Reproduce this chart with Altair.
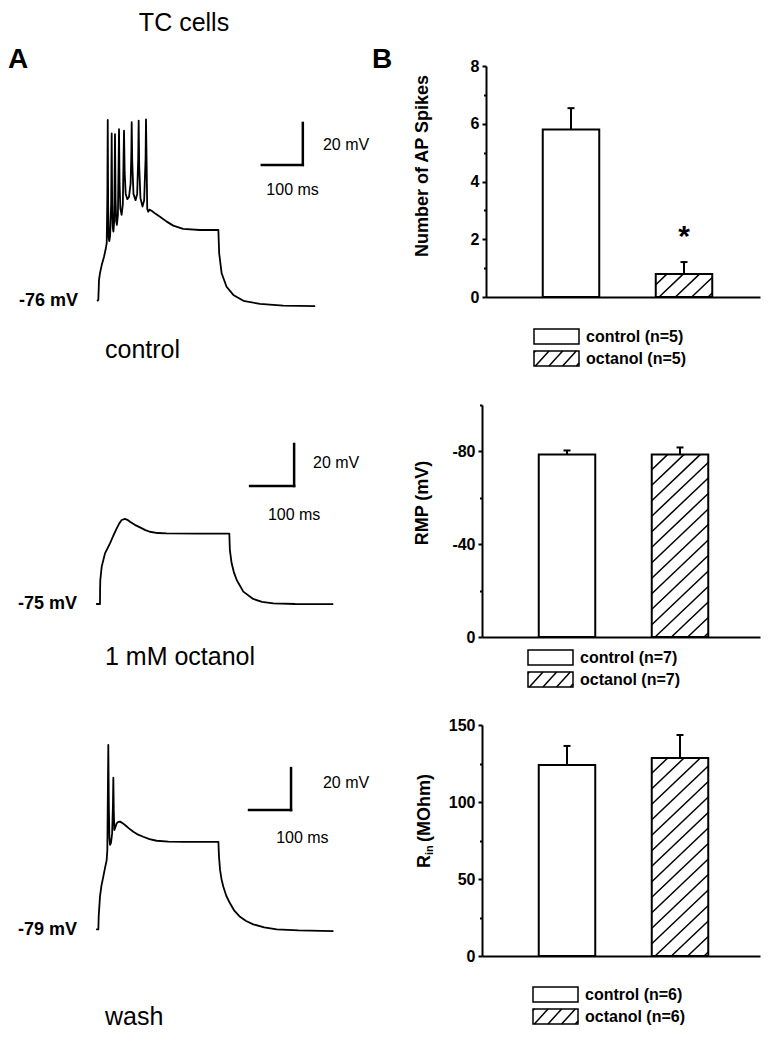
import altair as alt
import pandas as pd

# ---------------- values ----------------
groups = ["control", "octanol"]

spike_mean = [5.8, 0.8]
spike_sem = [0.74, 0.41]
spike_n = [5, 5]
spike_mark = ["", "*"]

rmp_mean = [-78.7, -78.7]
rmp_sem = [1.7, 3.0]
rmp_n = [7, 7]

rin_mean = [124.0, 128.6]
rin_sem = [12.4, 14.9]
rin_n = [6, 6]

trace_names = ["control", "1 mM octanol", "wash"]
trace_rest = [-76, -75, -79]
scalebar_mv = 20
scalebar_ms = 100

# (time ms, membrane potential mV)
ctrl_trace = [
    (0, -76), (3.2, -75.5), (4.9, -66), (7.3, -62.7), (11.5, -58.9), (17, -55), (21, -51.5),
    (23.7, -48.4), (25.3, -25), (26.2, 10.2), (27.2, -30), (28.5, -46), (30, -47.5), (32, -45),
    (34.5, -30), (35.8, 3.8), (37, -30), (38.5, -41), (40, -43), (42, -38), (43.9, 3.4),
    (45.3, -28), (47, -38), (48.5, -39.8), (51, -35), (52.7, -10), (53.7, 5.8), (55, -20),
    (57, -32), (60, -35), (63, -30), (65, -5), (65.9, 5.1), (67.5, -15), (70, -25), (74, -27.5),
    (78, -26.5), (82, -20), (83.8, -5), (84.6, 9.2), (86, -10), (89, -25), (94, -28), (98, -25),
    (100.5, -8), (101.6, 9.9), (103, -12), (106, -27), (111, -31), (115, -28), (118.5, -8),
    (119.5, 10.5), (121, -10), (122.5, -32), (125, -33.5), (128, -32.5), (133, -33), (143, -34.5),
    (153.7, -35.9), (170, -38.2), (186, -40.1), (210, -41.7), (251, -42.2), (296, -42.2),
    (298, -53.3), (304, -62.8), (316, -69.2), (332.5, -73.1), (357, -75.9), (397.6, -77.4),
    (454, -78.2), (532, -78.4),
]
octanol_trace = [
    (-2, -75), (6.8, -75), (7.0, -68), (7.5, -63.6), (10.7, -57.2), (18.2, -50.9), (29.5, -46.1),
    (37, -42.5), (44.8, -39), (51, -36.5), (56, -35), (63.6, -34.5), (69, -34.9), (75, -35.8),
    (86, -37.3), (97.7, -38.5), (110, -39.8), (120, -40.6), (138, -41.2), (158, -41.4),
    (234, -41.5), (300.7, -41.5), (302, -49.3), (306, -55.6), (311, -59.8), (317.5, -63.6),
    (332.5, -69.1), (355, -72.6), (375, -74), (400.7, -74.7), (450, -75), (537, -75.1),
]
wash_trace = [
    (-2, -78.7), (3.2, -78.7), (4, -72.7), (7.1, -63.1), (10.5, -58), (15, -53.6), (19, -49.5),
    (23, -45.7), (24.6, -40.9), (26.9, 9.1), (28.2, -20), (29.5, -35), (31, -38.5), (33.3, -37.5),
    (36, -33), (37.9, -20), (38.9, -6.5), (39.9, -22), (41.3, -31.4), (43, -30.5), (46.8, -28.2),
    (50.5, -27.5), (54.8, -27.4), (60, -28), (66.7, -29), (76, -30.6), (86.5, -32.2), (98, -33.6),
    (110, -34.6), (125, -35.7), (142, -36.5), (170, -36.9), (205.5, -37), (250, -37), (289, -37),
    (290.5, -44.1), (293, -50.4), (296.5, -54.8), (300.8, -58.4), (308, -62.8), (316.7, -66.3),
    (327, -69.8), (340.5, -72.7), (355, -74.7), (372, -76.3), (398, -77.7), (428, -78.7),
    (480, -79.2), (563, -79.5),
]
traces = [ctrl_trace, octanol_trace, wash_trace]

# ---------------- layout / style ----------------
FONT = "Liberation Sans"
M = 8                 # page margin
W, H = 764, 1034      # drawing area


def P(v):
    return v - M


def txt(s, x, y, size, bold=False, align="left", baseline="alphabetic", angle=0):
    kw = dict(font=FONT, fontSize=size, fontWeight="bold" if bold else "normal",
              align=align, baseline=baseline, color="black")
    if angle:
        kw["angle"] = angle
    return alt.Chart(pd.DataFrame({"s": [s]})).mark_text(**kw).encode(
        x=alt.value(P(x)), y=alt.value(P(y)), text="s:N")


def hatch_rows(x_left, x_right, y_base, y_top, px_x, px_y, step, slope, phase=0.0):
    wp = (x_right - x_left) * px_x
    hp = abs(y_top - y_base) * px_y
    d = 1 if y_top >= y_base else -1
    rows = []
    c = -slope * wp + phase
    while c < hp:
        u0 = max(0.0, -c / slope)
        u1 = min(wp, (hp - c) / slope)
        if u1 - u0 > 0.5:
            rows.append({"x": x_left + u0 / px_x, "y": y_base + d * (slope * u0 + c) / px_y,
                         "x2": x_left + u1 / px_x, "y2": y_base + d * (slope * u1 + c) / px_y})
        c += step
    return rows


layers = []

# ---------- panel A: voltage traces ----------
trace_layout = [
    dict(x0=97, px100=41, y0=301, px20=42, corner=(502, -11.2), lab20=(551, -1.7),
         lab100=(477, -23.1), rest_x=78, name_xy=(105, 358)),
    dict(x0=97, px100=44, y0=604, px20=42, corner=(448, -18.8), lab20=(491, -7.9),
         lab100=(448, -32.6), rest_x=77, name_xy=(105, 665)),
    dict(x0=97, px100=42, y0=930, px20=42, corner=(462, -21.9), lab20=(538, -9.0),
         lab100=(489, -35.2), rest_x=77, name_xy=(105, 1025)),
]

for i, L in enumerate(trace_layout):
    rest = trace_rest[i]
    xs = alt.Scale(domain=[0, scalebar_ms], range=[P(L["x0"]), P(L["x0"] + L["px100"])],
                   nice=False, zero=False)
    ys = alt.Scale(domain=[rest, rest + scalebar_mv], range=[P(L["y0"]), P(L["y0"] - L["px20"])],
                   nice=False, zero=False)
    X = lambda f: alt.X(f, scale=xs, axis=None)
    Y = lambda f: alt.Y(f, scale=ys, axis=None)

    df = pd.DataFrame(traces[i], columns=["t", "v"])
    df["i"] = range(len(df))
    layers.append(alt.Chart(df).mark_line(color="black", strokeWidth=1.8, strokeJoin="round").encode(
        x=X("t:Q"), y=Y("v:Q"), order="i:Q"))

    ct, cv = L["corner"]
    sb = pd.DataFrame({"t": [ct, ct - scalebar_ms], "v": [cv, cv],
                       "t2": [ct, ct], "v2": [cv + scalebar_mv, cv]})
    layers.append(alt.Chart(sb).mark_rule(color="black", strokeWidth=2.5, strokeCap="square").encode(
        x=X("t:Q"), y=Y("v:Q"), x2="t2:Q", y2="v2:Q"))

    l20 = pd.DataFrame({"t": [L["lab20"][0]], "v": [L["lab20"][1]], "s": [f"{scalebar_mv} mV"]})
    layers.append(alt.Chart(l20).mark_text(font=FONT, fontSize=16, align="left", baseline="middle",
                                           color="black").encode(x=X("t:Q"), y=Y("v:Q"), text="s:N"))
    l100 = pd.DataFrame({"t": [L["lab100"][0]], "v": [L["lab100"][1]], "s": [f"{scalebar_ms} ms"]})
    layers.append(alt.Chart(l100).mark_text(font=FONT, fontSize=16, align="center", baseline="middle",
                                            color="black").encode(x=X("t:Q"), y=Y("v:Q"), text="s:N"))

    rl = pd.DataFrame({"v": [rest], "s": [f"{rest} mV"]})
    layers.append(alt.Chart(rl).mark_text(font=FONT, fontSize=18, fontWeight="bold", align="right",
                                          baseline="middle", color="black").encode(
        x=alt.value(P(L["rest_x"])), y=Y("v:Q"), text="s:N"))

    layers.append(txt(trace_names[i], L["name_xy"][0], L["name_xy"][1], 25))

# ---------- panel B: bar charts ----------
PX_CAT = 113.0
bar_data = [
    (spike_mean, spike_sem, spike_n),
    (rmp_mean, rmp_sem, rmp_n),
    (rin_mean, rin_sem, rin_n),
]
bar_layout = [
    dict(ax=486, xend=760, y_rng=(297, 66), dom=(0, 8), major=[0, 2, 4, 6, 8], minor=[1, 3, 5, 7],
         legend=(534, 329)),
    dict(ax=482, xend=760, y_rng=(637, 405), dom=(0, -100), major=[0, -40, -80],
         minor=[-20, -60, -100], legend=(528, 650)),
    dict(ax=482, xend=760, y_rng=(956, 725), dom=(0, 150), major=[0, 50, 100, 150],
         minor=[25, 75, 125], legend=(533, 987)),
]

pxs = alt.Scale(domain=[0, 1000], range=[-M, 1000 - M], nice=False, zero=False)
pys = alt.Scale(domain=[0, 1000], range=[-M, 1000 - M], nice=False, zero=False)
legend_rects, legend_hatch, legend_text = [], [], []

for k, L in enumerate(bar_layout):
    means, sems, ns = bar_data[k]
    pos = [1, 2]
    x_lo = 1 - 85 / PX_CAT
    x_hi = x_lo + (L["xend"] - L["ax"]) / PX_CAT
    xs = alt.Scale(domain=[x_lo, x_hi], range=[P(L["ax"]), P(L["xend"])], nice=False, zero=False)
    ys = alt.Scale(domain=list(L["dom"]), range=[P(L["y_rng"][0]), P(L["y_rng"][1])],
                   nice=False, zero=False)
    sign = 1 if L["dom"][1] > L["dom"][0] else -1
    px_y = abs(L["y_rng"][0] - L["y_rng"][1]) / abs(L["dom"][1] - L["dom"][0])

    df = pd.DataFrame({
        "g": groups, "pos": pos,
        "lo": [p - 0.25 for p in pos], "hi": [p + 0.25 for p in pos],
        "base": [0, 0], "mean": means,
        "top": [m + sign * e for m, e in zip(means, sems)],
    })

    layers.append(alt.Chart(df).mark_rect(fill="white", stroke="black", strokeWidth=2).encode(
        x=alt.X("lo:Q", scale=xs, axis=alt.Axis(
            orient="bottom", offset=P(L["y_rng"][0]) - H, ticks=False, labels=False, title=None,
            grid=False, domainColor="black", domainWidth=2)),
        x2="hi:Q",
        y=alt.Y("mean:Q", scale=ys, axis=alt.Axis(
            orient="left", offset=-P(L["ax"]), values=L["major"], title=None, grid=False,
            domainColor="black", domainWidth=2, tickColor="black", tickWidth=2, tickSize=4,
            labelFont=FONT, labelFontSize=16, labelFontWeight="bold", labelColor="black",
            labelPadding=3, labelExpr="'' + datum.value")),
        y2="base:Q"))

    hd = pd.DataFrame(hatch_rows(pos[1] - 0.25, pos[1] + 0.25, 0, means[1], PX_CAT, px_y,
                                 step=15.5, slope=0.95, phase=4))
    layers.append(alt.Chart(hd).mark_rule(color="black", strokeWidth=1.5).encode(
        x=alt.X("x:Q", scale=xs, axis=None), y=alt.Y("y:Q", scale=ys, axis=None),
        x2="x2:Q", y2="y2:Q"))

    layers.append(alt.Chart(df).mark_rule(color="black", strokeWidth=2).encode(
        x=alt.X("pos:Q", scale=xs, axis=None),
        y=alt.Y("mean:Q", scale=ys, axis=alt.Axis(
            orient="left", offset=-P(L["ax"]), values=L["minor"], labels=False, domain=False,
            title=None, grid=False, tickColor="black", tickWidth=2, tickSize=2.5)),
        y2="top:Q"))
    layers.append(alt.Chart(df).mark_tick(orient="horizontal", size=7, thickness=2,
                                          color="black", opacity=1).encode(
        x=alt.X("pos:Q", scale=xs, axis=None), y=alt.Y("top:Q", scale=ys, axis=None)))

    if k == 0:
        sig = df.assign(s=spike_mark)
        layers.append(alt.Chart(sig).mark_text(font=FONT, fontSize=30, fontWeight="bold",
                                               baseline="middle", dy=-25, color="black").encode(
            x=alt.X("pos:Q", scale=xs, axis=None), y=alt.Y("top:Q", scale=ys, axis=None),
            text="s:N"))

    lx, ly = L["legend"]
    for j, g in enumerate(groups):
        y0 = ly + 22 * j
        legend_rects.append({"x": lx, "x2": lx + 45, "y": y0, "y2": y0 + 15})
        legend_text.append({"x": lx + 52, "y": y0 + 7.5, "s": f"{g} ({'n='}{ns[j]})"})
        if j == 1:
            legend_hatch += hatch_rows(lx, lx + 45, y0 + 15, y0, 1, 1, step=15, slope=1.1, phase=3)

# axis titles (rotated)
layers.append(txt("Number of AP Spikes", 423, 166, 18, bold=True, align="center",
                  baseline="middle", angle=270))
layers.append(txt("RMP (mV)", 423, 503, 18, bold=True, align="center", baseline="middle", angle=270))
layers.append(txt("R", 429.5, 868, 18, bold=True, align="left", angle=270))
layers.append(txt("in", 433, 855, 11, bold=True, align="left", angle=270))
layers.append(txt("(MOhm)", 429.5, 842, 18, bold=True, align="left", angle=270))

# legends
layers.append(alt.Chart(pd.DataFrame(legend_rects)).mark_rect(
    fill="white", stroke="black", strokeWidth=1.5).encode(
    x=alt.X("x:Q", scale=pxs, axis=None), x2="x2:Q",
    y=alt.Y("y:Q", scale=pys, axis=None), y2="y2:Q"))
layers.append(alt.Chart(pd.DataFrame(legend_hatch)).mark_rule(color="black", strokeWidth=1.5).encode(
    x=alt.X("x:Q", scale=pxs, axis=None), x2="x2:Q",
    y=alt.Y("y:Q", scale=pys, axis=None), y2="y2:Q"))
layers.append(alt.Chart(pd.DataFrame(legend_text)).mark_text(
    font=FONT, fontSize=16, fontWeight="bold", align="left", baseline="middle", color="black").encode(
    x=alt.X("x:Q", scale=pxs, axis=None), y=alt.Y("y:Q", scale=pys, axis=None), text="s:N"))

# headings
layers.append(txt("TC cells", 184, 31, 25, align="center"))
layers.append(txt("A", 8, 68, 28, bold=True))
layers.append(txt("B", 372, 68, 28, bold=True))

chart = alt.layer(*layers).resolve_scale(x="independent", y="independent").properties(
    width=W, height=H, autosize=alt.AutoSizeParams(type="none"), padding=0,
    background="white").configure_view(stroke=None)

chart.save("out.html", embed_options={"renderer": "svg", "actions": False})
